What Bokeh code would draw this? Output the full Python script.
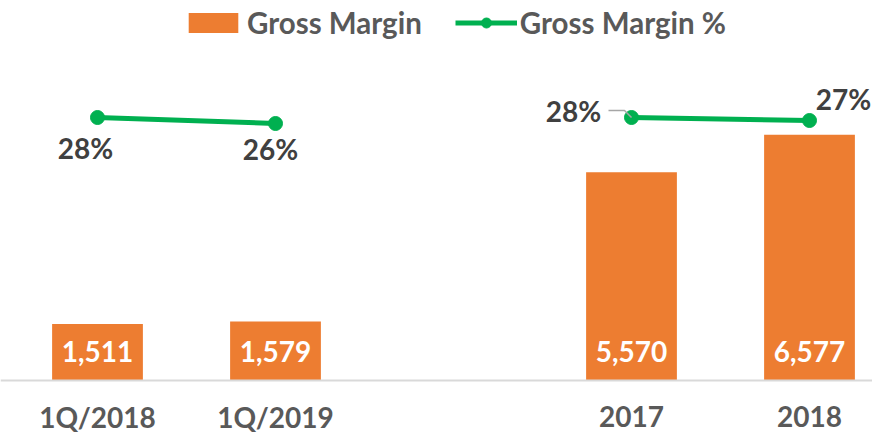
from bokeh.plotting import figure
from bokeh.models import Range1d, Legend, LegendItem, Span, ColumnDataSource
from bokeh.core.properties import value
from bokeh.embed import file_html
from bokeh.resources import INLINE

# ---- data ----
categories = ["1Q/2018", "1Q/2019", "", "2017", "2018"]   # "" = empty gap slot
gross_margin = [1511, 1579, None, 5570, 6577]
gross_margin_pct = [28, 26, None, 28, 27]

# ---- label layout (screen px offsets of % labels relative to their points) ----
pct_dx = [-12, -5, 0, -58, 34]
pct_dy = [30, 25, 0, -7, -22]

FONT = value("Lato")
ORANGE = "#ED7D31"
GREEN = "#00B050"
GREY_TXT = "#595959"
DARK_TXT = "#404040"

W, H = 872, 434
base_px = 380          # baseline position from top of frame
units_per_px = 26.75   # bar axis scale
pct_px = 3.0           # px per percentage point
slot_px = 178.0
first_center_px = 97.0

y_end = base_px * units_per_px
y_start = -(H - base_px) * units_per_px
x_start = -first_center_px / slot_px
x_end = x_start + W / slot_px

p = figure(width=W, height=H, output_backend="svg", toolbar_location=None,
           x_range=Range1d(x_start, x_end),
           y_range=Range1d(y_start, y_end),
           min_border=0, min_border_left=0, min_border_right=0,
           min_border_top=0, min_border_bottom=0)
p.xaxis.visible = False
p.yaxis.visible = False
p.grid.visible = False
p.outline_line_color = None
p.background_fill_color = "white"
p.border_fill_color = "white"

# secondary range for percentages
first_pct = gross_margin_pct[0]
first_px_from_top = 117
pct_start = first_pct - (H - first_px_from_top) / pct_px
pct_end = pct_start + H / pct_px
p.extra_y_ranges = {"pct": Range1d(pct_start, pct_end)}

xs_all = list(range(len(categories)))
bx = [i for i, v in zip(xs_all, gross_margin) if v is not None]
by = [v for v in gross_margin if v is not None]
blab = [f"{v:,}" for v in by]

bar_src = ColumnDataSource(dict(x=bx, top=by, lab=blab, zero=[0] * len(bx)))
bars = p.vbar(x="x", top="top", width=0.51, source=bar_src,
              fill_color=ORANGE, line_color=None)

# baseline
p.add_layout(Span(location=0, dimension="width", line_color="#D9D9D9", line_width=2))

# bar value labels
p.text(x="x", y="zero", text="lab", source=bar_src, y_offset=-29,
       text_align="center", text_baseline="middle", text_color="white",
       text_font=FONT, text_font_style="bold", text_font_size="28px")

# category labels
cx = [i for i, c in zip(xs_all, categories) if c]
cl = [c for c in categories if c]
p.text(x=cx, y=[0] * len(cx), text=cl, y_offset=36,
       text_align="center", text_baseline="middle", text_color=GREY_TXT,
       text_font=FONT, text_font_style="bold", text_font_size="28px")

# percentage line (broken at gap)
ly = [float("nan") if v is None else v for v in gross_margin_pct]
line = p.line(x=xs_all, y=ly, y_range_name="pct", line_color=GREEN, line_width=5)
px_ = [i for i, v in zip(xs_all, gross_margin_pct) if v is not None]
py_ = [v for v in gross_margin_pct if v is not None]
dots = p.scatter(x=px_, y=py_, y_range_name="pct", size=14,
                 fill_color=GREEN, line_color=GREEN)

# leader line for the 2017 label
i17 = categories.index("2017")
v17 = gross_margin_pct[i17]
lead_px = [(-23, -7), (-7, -7), (0, 0)]
p.line(x=[i17 + dx / slot_px for dx, dy in lead_px],
       y=[v17 - dy / pct_px for dx, dy in lead_px],
       y_range_name="pct", line_color="#A6A6A6", line_width=1.5)

# percentage labels
pl = [f"{v}%" for v in py_]
pdx = [pct_dx[i] for i in px_]
pdy = [pct_dy[i] for i in px_]
p.text(x=px_, y=py_, text=pl, y_range_name="pct",
       x_offset=pdx, y_offset=pdy,
       text_align="center", text_baseline="middle", text_color=DARK_TXT,
       text_font=FONT, text_font_style="bold", text_font_size="28px")

# legend
legend = Legend(items=[LegendItem(label="Gross Margin", renderers=[bars]),
                       LegendItem(label="Gross Margin %", renderers=[line, dots])],
                orientation="horizontal", location=(182, H - 40),
                glyph_width=62, glyph_height=25, label_standoff=3, spacing=33,
                padding=0, margin=0, border_line_color=None,
                background_fill_alpha=0,
                label_text_font="Lato", label_text_font_style="bold",
                label_text_font_size="29.5px", label_text_color=GREY_TXT)
p.add_layout(legend)

open("out.html", "w").write(file_html(p, INLINE))
